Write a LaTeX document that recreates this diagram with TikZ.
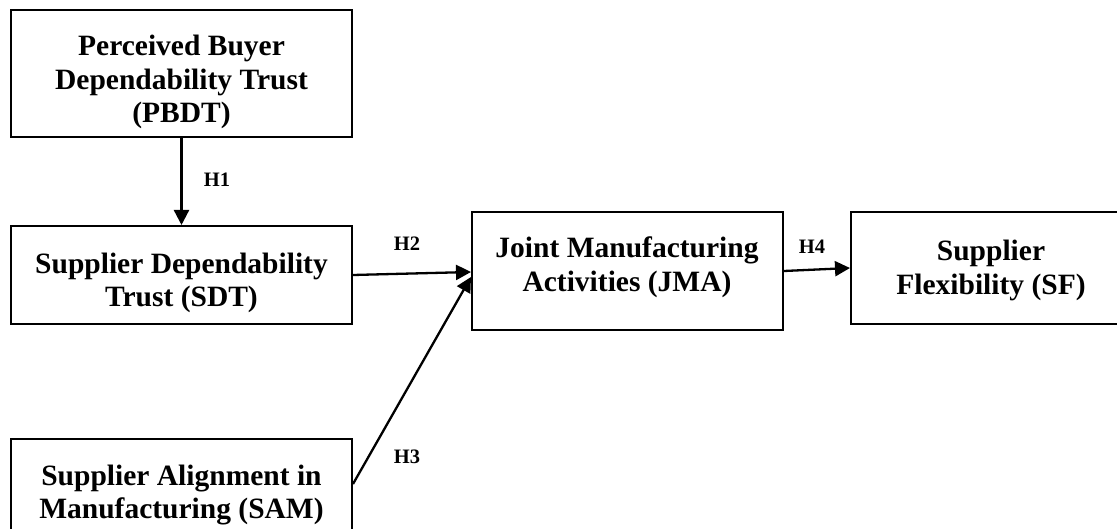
\documentclass[tikz,border=0pt]{standalone}
\usepackage{fontspec}
\setmainfont{Liberation Serif}
\usetikzlibrary{arrows.meta,calc}
\tikzset{
  boxnode/.style={draw=black, line width=2pt, rectangle, inner sep=0pt, fill=none},
  boxtext/.style={align=center, inner sep=0pt, font=\bfseries\fontsize{29.5}{33.5}\selectfont},
  hlabel/.style={inner sep=0pt, font=\bfseries\fontsize{20.5}{23}\selectfont},
  conn/.style={line width=2.3pt, -{Triangle[length=15pt,width=15pt]}},
}
\begin{document}
\begin{tikzpicture}[x=1pt,y=-1pt]
\useasboundingbox (0,0) rectangle (1117,529);
\clip (0,0) rectangle (1117,529);
% boxes
\node[boxnode, minimum width=341pt, minimum height=127pt] (pbdt) at (181.5,73.5) {};
\node[boxnode, minimum width=341pt, minimum height=98pt] (sdt) at (181.5,275) {};
\node[boxnode, minimum width=341pt, minimum height=140pt] (sam) at (181.5,509) {};
\node[boxnode, minimum width=311pt, minimum height=118pt] (jma) at (627.5,271) {};
\node[boxnode, minimum width=280pt, minimum height=112pt] (sf) at (991,268) {};
% texts
\node[boxtext] (tpbdt) at (181.5,82) {Perceived Buyer\\Dependability Trust\\(PBDT)};
\node[boxtext] (tsdt) at (181.5,283) {Supplier Dependability\\Trust (SDT)};
\node[boxtext] (tsam) at (181.5,495) {Supplier Alignment in\\Manufacturing (SAM)};
\node[boxtext] (tjma) at (627,267.5) {Joint Manufacturing\\Activities (JMA)};
\node[boxtext] (tsf) at (991,270.5) {Supplier\\Flexibility (SF)};
% connectors
\draw[conn] (pbdt.south) -- (sdt.north);
\draw[conn] (sdt.east) -- ($(jma.west)+(0,1)$);
\draw[conn] ($(sam.north east)+(0,46)$) -- ($(jma.west)+(0,6)$);
\draw[conn] (jma.east) -- (sf.west);
% labels
\node[hlabel] (h1) at (217,180) {H1};
\node[hlabel] (h2) at (407,244) {H2};
\node[hlabel] (h3) at (407,457) {H3};
\node[hlabel] (h4) at (812,247) {H4};
\end{tikzpicture}
\end{document}
